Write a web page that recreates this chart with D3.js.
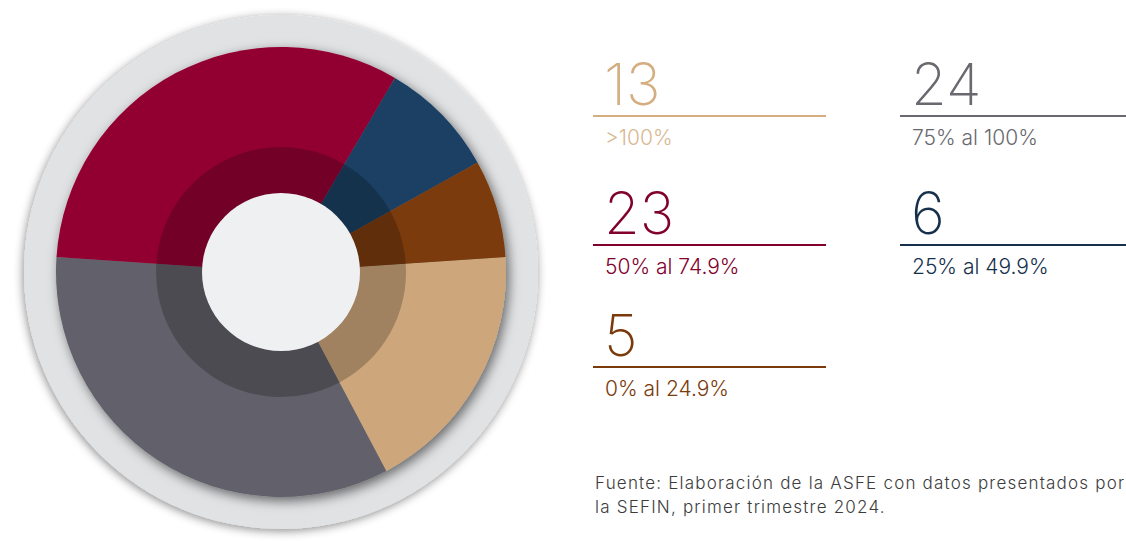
<!DOCTYPE html>
<html>
<head>
<meta charset="utf-8">
<script src="https://cdn.jsdelivr.net/npm/d3@7"></script>
<style>
  body { margin: 0; background: #fff; overflow: hidden; }
  svg { display: block; }
</style>
</head>
<body>
<svg width="1126" height="541"></svg>
<script>
// data (legend order)
var values = [13, 24, 23, 6, 5];
var labels = [">100%", "75% al 100%", "50% al 74.9%", "25% al 49.9%", "0% al 24.9%"];
var colors = ["#cda67c", "#62616a", "#920031", "#1a3f63", "#7b3a09"];
var textColors = ["#d4ad80", "#6a6970", "#82002c", "#17314d", "#7b3a0c"];
var subColors = ["#d9b892", "#6a6970", "#82002c", "#17314d", "#7b3a0c"];
var source = ["Fuente: Elaboración de la ASFE con datos presentados por", "la SEFIN, primer trimestre 2024."];

var svg = d3.select("svg"),
    cx = 281, cy = 272;

var defs = svg.append("defs");
var f1 = defs.append("filter").attr("id", "diskShadow")
    .attr("x", "-20%").attr("y", "-20%").attr("width", "140%").attr("height", "140%");
f1.append("feDropShadow").attr("dx", -1).attr("dy", 2).attr("stdDeviation", 5)
    .attr("flood-color", "#000").attr("flood-opacity", 0.45);
var f2 = defs.append("filter").attr("id", "pieShadow")
    .attr("x", "-20%").attr("y", "-20%").attr("width", "140%").attr("height", "140%");
f2.append("feDropShadow").attr("dx", 3).attr("dy", 4).attr("stdDeviation", 6)
    .attr("flood-color", "#000").attr("flood-opacity", 0.55);

var g = svg.append("g").attr("transform", "translate(" + cx + "," + cy + ")");

// back disk
g.append("circle").attr("r", 257).attr("fill", "#e1e2e4").attr("filter", "url(#diskShadow)");

var start = 86.2 * Math.PI / 180;
var pie = d3.pie().sort(null).startAngle(start).endAngle(start + 2 * Math.PI);
var arcs = pie(values);

var outer = d3.arc().innerRadius(0).outerRadius(225);
var inner = d3.arc().innerRadius(0).outerRadius(125);

var pg = g.append("g").attr("filter", "url(#pieShadow)");
pg.selectAll("path.slice")
    .data(arcs)
  .enter().append("path")
    .attr("class", "slice")
    .attr("d", outer)
    .attr("fill", function(d, i) { return colors[i]; });

// darker inner ring
g.selectAll("path.inner")
    .data(arcs)
  .enter().append("path")
    .attr("class", "inner")
    .attr("d", inner)
    .attr("fill", "#000")
    .attr("fill-opacity", 0.22);

g.append("circle").attr("r", 79).attr("fill", "#eff0f2");

// legend
var cols = [593, 900], rows = [116, 245, 367];
var lg = svg.selectAll("g.leg")
    .data(values)
  .enter().append("g")
    .attr("class", "leg")
    .attr("transform", function(d, i) {
        return "translate(" + cols[i % 2] + "," + rows[Math.floor(i / 2)] + ")";
    });

lg.append("text")
    .attr("x", 11)
    .attr("y", -11)
    .attr("font-family", "Inter, 'Noto Sans', sans-serif")
    .attr("font-weight", 200)
    .attr("font-size", "58px")
    .attr("fill", function(d, i) { return textColors[i]; })
    .text(function(d) { return d; });

lg.append("line")
    .attr("x1", 0)
    .attr("x2", function(d, i) { return i % 2 ? 226 : 233; })
    .attr("y1", 0).attr("y2", 0)
    .attr("stroke", function(d, i) { return textColors[i]; })
    .attr("stroke-width", 2);

lg.append("text")
    .attr("x", 12)
    .attr("y", 29)
    .attr("font-family", "Inter, 'Noto Sans', sans-serif")
    .attr("font-weight", 300)
    .attr("font-size", "21px")
    .attr("fill", function(d, i) { return subColors[i]; })
    .text(function(d, i) { return labels[i]; });

svg.append("g").selectAll("text")
    .data(source)
  .enter().append("text")
    .attr("x", 595)
    .attr("y", function(d, i) { return 489 + i * 24; })
    .attr("font-family", "Inter, 'Noto Sans', sans-serif")
    .attr("font-weight", 300)
    .attr("font-size", "17px")
    .attr("letter-spacing", "1.2px")
    .attr("fill", "#3c3c3c")
    .text(function(d) { return d; });
</script>
</body>
</html>
